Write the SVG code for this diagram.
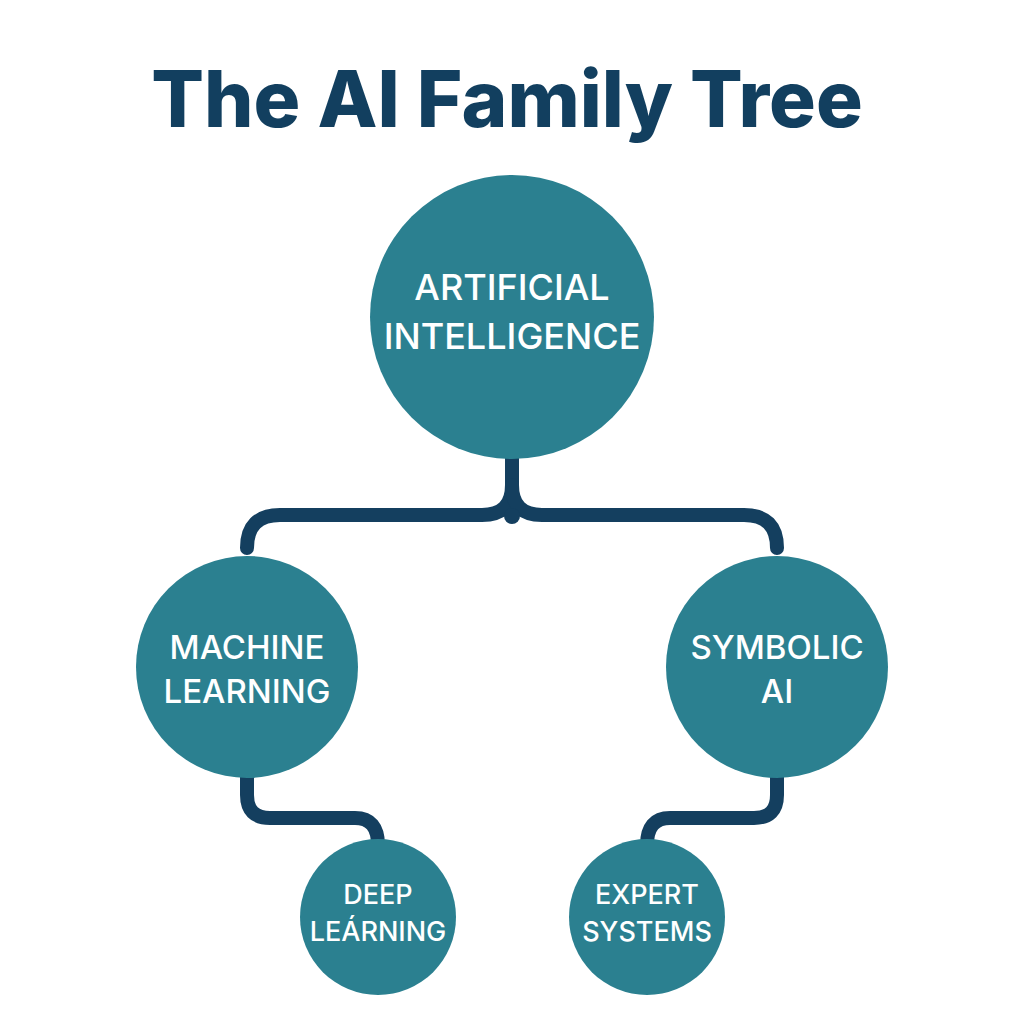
<svg xmlns="http://www.w3.org/2000/svg" width="1024" height="1024" viewBox="0 0 1024 1024">
<style>
.n{fill:#2b8090}
.t{fill:#fff;font-family:Inter,"Liberation Sans",sans-serif;font-weight:500;text-anchor:middle}
.c{fill:none;stroke:#143f5f;stroke-width:14;stroke-linecap:round;stroke-linejoin:round}
</style>
<rect width="1024" height="1024" fill="#fff"/>
<text x="507" y="127" font-family="Inter,'Liberation Sans',sans-serif" font-weight="800" font-size="78" fill="#123f5f" text-anchor="middle">The AI Family Tree</text>
<g id="connectors">
<path class="c" d="M512 450 V485 Q512 515 482 515 H280 Q247 515 247 548"/>
<path class="c" d="M512 485 Q512 515 542 515 H744 Q777 515 777 548"/>
<circle cx="512" cy="516" r="8" fill="#143f5f"/>
<path class="c" d="M247 770 V795 Q247 818 270 818 H355 Q378 818 378 845"/>
<path class="c" d="M777 770 V795 Q777 818 754 818 H670 Q647 818 647 845"/>
</g>
<g id="ai"><circle class="n" cx="512" cy="317" r="142"/>
<text class="t" font-size="36" x="512" y="300">ARTIFICIAL</text>
<text class="t" font-size="36" x="512" y="349">INTELLIGENCE</text></g>
<g id="ml"><circle class="n" cx="247" cy="667" r="111"/>
<text class="t" font-size="33" x="247" y="659">MACHINE</text>
<text class="t" font-size="33" x="247" y="703">LEARNING</text></g>
<g id="sym"><circle class="n" cx="777" cy="667" r="111"/>
<text class="t" font-size="33" x="777" y="659">SYMBOLIC</text>
<text class="t" font-size="33" x="777" y="703">AI</text></g>
<g id="dl"><circle class="n" cx="378" cy="917" r="78"/>
<text class="t" font-size="27" x="378" y="904">DEEP</text>
<text class="t" font-size="27" x="378" y="941">LEÁRNING</text></g>
<g id="es"><circle class="n" cx="647" cy="917" r="78"/>
<text class="t" font-size="27" x="647" y="904">EXPERT</text>
<text class="t" font-size="27" x="647" y="941">SYSTEMS</text></g>
</svg>
